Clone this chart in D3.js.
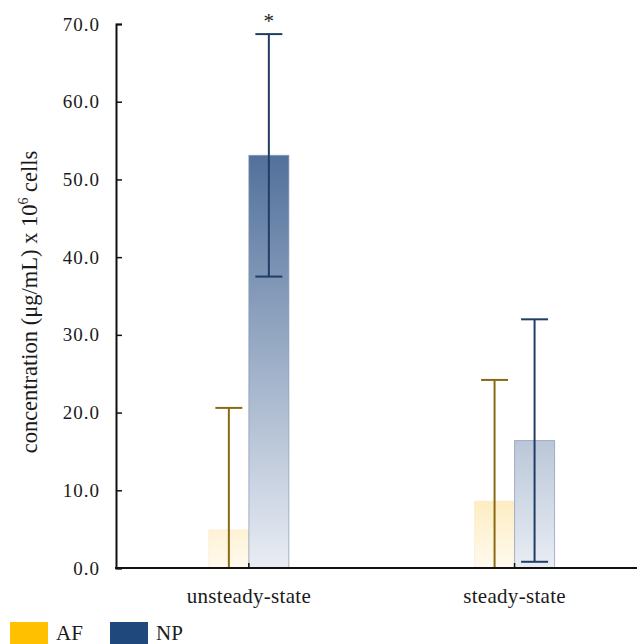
<!DOCTYPE html>
<html>
<head>
<meta charset="utf-8">
<script src="https://cdn.jsdelivr.net/npm/d3@7"></script>
<style>
  body { margin: 0; background: #fff; }
  text { font-family: "Liberation Serif", serif; fill: #1a1a1a; }
</style>
</head>
<body>
<div id="chart"></div>
<script>
// data
let categories = ['unsteady-state', 'steady-state'];
let seriesNames = ['AF', 'NP'];
let afValues = [4.9, 8.6];
let npValues = [53.1, 16.4];
let afErrors = [15.7, 15.6];
let npErrors = [15.6, 15.6];
let yTicks = [0, 10, 20, 30, 40, 50, 60, 70];

let width = 637;
let height = 644;
let margin = {top: 24, right: 0, bottom: 76, left: 116};
let innerW = width - margin.left - margin.right;
let innerH = height - margin.top - margin.bottom;

let svg = d3.select('#chart').append('svg')
    .attr('width', width)
    .attr('height', height);

let defs = svg.append('defs');

let g = svg.append('g')
    .attr('transform', `translate(${margin.left},${margin.top})`);

let y = d3.scaleLinear().domain([0, 70]).range([innerH, 0]);

let x0 = d3.scaleBand()
    .domain(categories)
    .range([0, innerW * 1.02])
    .paddingInner(0.0)
    .paddingOuter(0.0);

let x1 = d3.scaleBand()
    .domain(seriesNames)
    .range([0, 80]);

// gradients in plot coordinates so the short bar looks lighter
let npGrad = defs.append('linearGradient')
    .attr('id', 'npGrad')
    .attr('gradientUnits', 'userSpaceOnUse')
    .attr('x1', 0).attr('x2', 0)
    .attr('y1', y(55)).attr('y2', y(0));
npGrad.append('stop').attr('offset', '0%').attr('stop-color', '#4c6c98');
npGrad.append('stop').attr('offset', '100%').attr('stop-color', '#e9edf4');

let afGrad = defs.append('linearGradient')
    .attr('id', 'afGrad')
    .attr('gradientUnits', 'userSpaceOnUse')
    .attr('x1', 0).attr('x2', 0)
    .attr('y1', y(10)).attr('y2', y(0));
afGrad.append('stop').attr('offset', '0%').attr('stop-color', '#fdebbb');
afGrad.append('stop').attr('offset', '100%').attr('stop-color', '#fffaef');

// table for drawing
let rows = [];
categories.forEach(function (c, i) {
    rows.push({cat: c, key: 'AF', value: afValues[i], err: afErrors[i]});
    rows.push({cat: c, key: 'NP', value: npValues[i], err: npErrors[i]});
});

let center = function (d) {
    return x0(d.cat) + x0.bandwidth() / 2 - 40;
};

let clip = defs.append('clipPath').attr('id', 'plotClip');
clip.append('rect').attr('x', 0).attr('y', -30).attr('width', innerW).attr('height', innerH + 30);

// bars
g.selectAll('.bar')
    .data(rows)
    .enter().append('rect')
    .attr('class', 'bar')
    .attr('x', function (d) { return center(d) + x1(d.key); })
    .attr('y', function (d) { return y(d.value); })
    .attr('width', x1.bandwidth())
    .attr('height', function (d) { return innerH - y(d.value); })
    .attr('fill', function (d) { return d.key === 'AF' ? 'url(#afGrad)' : 'url(#npGrad)'; })
    .attr('stroke', function (d) { return d.key === 'AF' ? '#fbe9c0' : '#7f90b0'; })
    .attr('stroke-opacity', function (d) { return d.key === 'AF' ? 0.6 : 0.65; })
    .attr('stroke-width', 1);

// error bars
let errColor = {AF: '#8a6a10', NP: '#1f3d66'};
let errs = g.append('g').attr('clip-path', 'url(#plotClip)');
let capW = 27;

rows.forEach(function (d) {
    let cx = center(d) + x1(d.key) + x1.bandwidth() / 2;
    let hi = d.value + d.err;
    let lo = d.value - d.err;
    errs.append('line')
        .attr('x1', cx).attr('x2', cx)
        .attr('y1', y(hi)).attr('y2', y(Math.max(lo, -2)))
        .attr('stroke', errColor[d.key]).attr('stroke-width', 2);
    errs.append('line')
        .attr('x1', cx - capW / 2).attr('x2', cx + capW / 2)
        .attr('y1', y(hi)).attr('y2', y(hi))
        .attr('stroke', errColor[d.key]).attr('stroke-width', 2);
    if (lo > 0) {
        errs.append('line')
            .attr('x1', cx - capW / 2).attr('x2', cx + capW / 2)
            .attr('y1', y(lo)).attr('y2', y(lo))
            .attr('stroke', errColor[d.key]).attr('stroke-width', 2);
    }
});

// significance star
g.append('text')
    .attr('x', center(rows[1]) + x1('NP') + x1.bandwidth() / 2)
    .attr('y', y(68.7) - 6)
    .attr('text-anchor', 'middle')
    .style('font-size', '21px')
    .text('*');

// y axis, ticks pointing inward
let yAxis = g.append('g')
    .call(d3.axisLeft(y).tickValues(yTicks).tickSize(-6).tickPadding(16)
        .tickFormat(d3.format('.1f')));
yAxis.select('.domain').attr('stroke', '#111').attr('stroke-width', 2);
yAxis.selectAll('.tick line').attr('stroke', '#111').attr('stroke-width', 1.5);
yAxis.selectAll('.tick text')
    .style('font-family', '"Liberation Serif", serif')
    .style('font-size', '19px')
    .style('letter-spacing', '1px');

// x axis
let xAxisG = g.append('g').attr('transform', `translate(0,${innerH})`);
xAxisG.append('line')
    .attr('x1', -1).attr('x2', innerW)
    .attr('stroke', '#111').attr('stroke-width', 2);
categories.forEach(function (c) {
    let cx = x0(c) + x0.bandwidth() / 2;
    xAxisG.append('line')
        .attr('x1', cx).attr('x2', cx)
        .attr('y1', 0).attr('y2', -5)
        .attr('stroke', '#111').attr('stroke-width', 1.5);
    xAxisG.append('text')
        .attr('x', cx)
        .attr('y', 35)
        .attr('text-anchor', 'middle')
        .style('font-size', '21px')
        .style('letter-spacing', '0.3px')
        .text(c);
});

// y label
let ylab = svg.append('text')
    .attr('transform', `translate(37,${margin.top + innerH / 2 + 6}) rotate(-90)`)
    .attr('text-anchor', 'middle')
    .style('font-size', '22.5px');
ylab.append('tspan').text('concentration (μg/mL) x 10');
ylab.append('tspan').attr('dy', -9).style('font-size', '14px').text('6');
ylab.append('tspan').attr('dy', 9).text(' cells');

// legend
let legendColors = {AF: '#ffc000', NP: '#1f497d'};
let legend = svg.append('g').attr('transform', `translate(10,622)`);
seriesNames.forEach(function (s, i) {
    let lg = legend.append('g').attr('transform', `translate(${i * 100},0)`);
    lg.append('rect')
        .attr('width', 38).attr('height', 24)
        .attr('fill', legendColors[s]);
    lg.append('text')
        .attr('x', 46).attr('y', 18)
        .style('font-size', '21px')
        .text(s);
});
</script>
</body>
</html>
